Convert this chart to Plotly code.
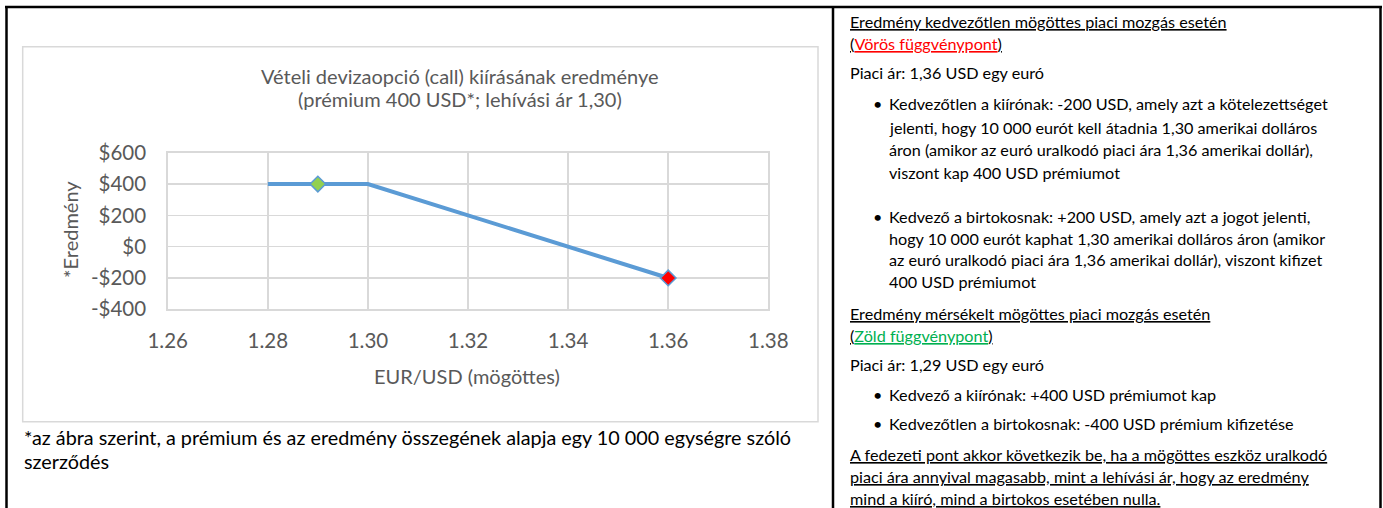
import plotly.graph_objects as go

W, H = 1383, 508

# ---- data ----
line_x = [1.28, 1.30, 1.36]
line_y = [400, 400, -200]
point_x = [1.29, 1.36]
point_y = [400, -200]
point_colors = ["#92d050", "#ff0000"]
x_tick_vals = [1.26, 1.28, 1.30, 1.32, 1.34, 1.36, 1.38]
y_tick_vals = [-400, -200, 0, 200, 400, 600]
y_tick_text = ["-$400", "-$200", "$0", "$200", "$400", "$600"]
title_lines = ["Vételi devizaopció (call) kiírásának eredménye",
               "(prémium 400 USD*; lehívási ár 1,30)"]
y_title = "*Eredmény"
x_title = "EUR/USD (mögöttes)"
footnote_lines = ["*az ábra szerint, a prémium és az eredmény összegének alapja egy 10 000 egységre szóló",
                  "szerződés"]
sec1_head = "Eredmény kedvezőtlen mögöttes piaci mozgás esetén"
sec1_point = "Vörös függvénypont"
sec1_price = "Piaci ár: 1,36 USD egy euró"
sec1_b1 = ["Kedvezőtlen a kiírónak: -200 USD, amely azt a kötelezettséget",
           "jelenti, hogy 10 000 eurót kell átadnia 1,30 amerikai dolláros",
           "áron (amikor az euró uralkodó piaci ára 1,36 amerikai dollár),",
           "viszont kap 400 USD prémiumot"]
sec1_b2 = ["Kedvező a birtokosnak: +200 USD, amely azt a jogot jelenti,",
           "hogy 10 000 eurót kaphat 1,30 amerikai dolláros áron (amikor",
           "az euró uralkodó piaci ára 1,36 amerikai dollár), viszont kifizet",
           "400 USD prémiumot"]
sec2_head = "Eredmény mérsékelt mögöttes piaci mozgás esetén"
sec2_point = "Zöld függvénypont"
sec2_price = "Piaci ár: 1,29 USD egy euró"
sec2_b1 = ["Kedvező a kiírónak: +400 USD prémiumot kap"]
sec2_b2 = ["Kedvezőtlen a birtokosnak: -400 USD prémium kifizetése"]
conclusion = ["A fedezeti pont akkor következik be, ha a mögöttes eszköz uralkodó",
              "piaci ára annyival magasabb, mint a lehívási ár, hogy az eredmény",
              "mind a kiíró, mind a birtokos esetében nulla."]


def px(x):
    return x / W


def py(y):
    return 1 - y / H


FONT = "Lato"
GREY = "#595959"
GRID = "#d9d9d9"

fig = go.Figure()
fig.add_trace(go.Scatter(x=line_x, y=line_y, mode="lines",
                         line=dict(color="#5b9bd5", width=4), hoverinfo="skip",
                         showlegend=False))
fig.add_trace(go.Scatter(x=point_x, y=point_y, mode="markers",
                         marker=dict(symbol="diamond", size=12, color=point_colors,
                                     line=dict(color="#5b9bd5", width=1.5)),
                         showlegend=False))

PL, PR, PT, PB = 167.7, 768.3, 152.7, 309.3
fig.update_layout(
    width=W, height=H, margin=dict(l=0, r=0, t=0, b=0, pad=0, autoexpand=False),
    autosize=False, showlegend=False,
    paper_bgcolor="white", plot_bgcolor="white",
    font=dict(family=FONT, color=GREY),
    xaxis=dict(domain=[px(PL), px(PR)], range=[1.26, 1.38], tickvals=x_tick_vals,
               tickformat=".2f", showgrid=True, gridcolor=GRID, gridwidth=1.5,
               showline=True, linecolor=GRID, linewidth=1.5, mirror=True,
               zeroline=False, ticks="", ticklabelstandoff=13, automargin=False,
               tickfont=dict(size=20.5, color=GREY, family=FONT)),
    yaxis=dict(domain=[py(PB), py(PT)], range=[-400, 600], tickvals=y_tick_vals,
               ticktext=y_tick_text, showgrid=True, gridcolor=GRID, gridwidth=1.5,
               showline=True, linecolor=GRID, linewidth=1.5, mirror=True,
               zeroline=False, ticks="", ticklabelstandoff=16, automargin=False,
               tickfont=dict(size=20.5, color=GREY, family=FONT)),
)

shapes = []
# chart box
shapes.append(dict(type="rect", xref="paper", yref="paper", x0=px(22.7), x1=px(818),
                   y0=py(421.7), y1=py(46.7), line=dict(color=GRID, width=1.5)))
# table borders
BLK = dict(color="black", width=2.5)
shapes.append(dict(type="line", xref="paper", yref="paper", x0=px(5), x1=px(1382),
                   y0=py(7), y1=py(7), line=BLK))
for xx in (6.5, 833, 1380.5):
    shapes.append(dict(type="line", xref="paper", yref="paper", x0=px(xx), x1=px(xx),
                       y0=py(7), y1=py(510), line=BLK))
fig.update_layout(shapes=shapes)

ann = []


def text(t, x, y, size, color="black", xanchor="left", angle=0):
    ann.append(dict(text=t, x=px(x), y=py(y), xref="paper", yref="paper",
                    xanchor=xanchor, yanchor="middle", showarrow=False,
                    textangle=angle, font=dict(family=FONT, size=size, color=color)))


# chart title & axis titles
text(title_lines[0], 459.5, 76, 20, GREY, "center")
text(title_lines[1], 459.5, 99, 20, GREY, "center")
text(y_title, 70, 230, 20, GREY, "center", -90)
text(x_title, 467, 376, 20, GREY, "center")

# footnote
text(footnote_lines[0], 22, 437, 19.8)
text(footnote_lines[1], 22, 461, 19.8)

# right panel
TX, BX, BTX = 848, 871, 887
FS = 16.2
text("<u>" + sec1_head + "</u>", TX, 21.7, FS)
text("<u>(</u><span style='color:#ff0000'><u>" + sec1_point + "</u></span><u>)</u>", TX, 43.5, FS)
text(sec1_price, TX, 73, FS)
for i, (t, yy) in enumerate(zip(sec1_b1, [104, 127, 150, 172.5])):
    if i == 0:
        text("•", BX, yy, FS)
    text(t, BTX, yy, FS)
for i, (t, yy) in enumerate(zip(sec1_b2, [216, 238, 259.5, 281])):
    if i == 0:
        text("•", BX, yy, FS)
    text(t, BTX, yy, FS)
text("<u>" + sec2_head + "</u>", TX, 313, FS)
text("<u>(</u><span style='color:#00b050'><u>" + sec2_point + "</u></span><u>)</u>", TX, 335, FS)
text(sec2_price, TX, 364, FS)
text("•", BX, 394.5, FS)
text(sec2_b1[0], BTX, 394.5, FS)
text("•", BX, 423.3, FS)
text(sec2_b2[0], BTX, 423.3, FS)
for t, yy in zip(conclusion, [454, 476.7, 498.5]):
    text("<u>" + t + "</u>", TX, yy, FS)

fig.update_layout(annotations=ann)
fig.write_html("out.html", config={"displayModeBar": False, "staticPlot": True},
               post_script="document.body.style.margin='0';document.body.style.padding='0';")
